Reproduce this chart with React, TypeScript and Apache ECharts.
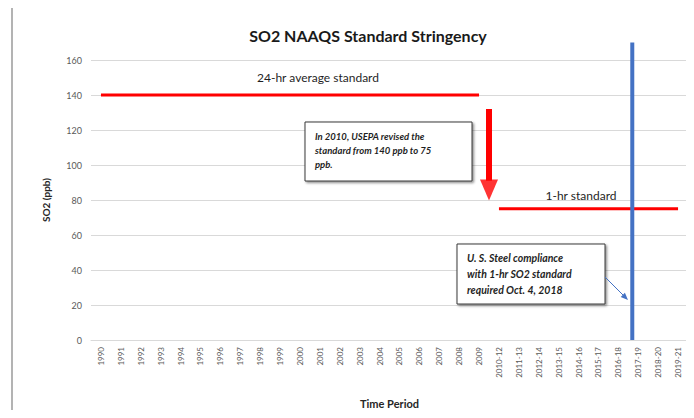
import React, { useEffect, useRef } from "react";
import * as echarts from "echarts";

const categories = [
  "1990", "1991", "1992", "1993", "1994", "1995", "1996", "1997", "1998", "1999",
  "2000", "2001", "2002", "2003", "2004", "2005", "2006", "2007", "2008", "2009",
  "2010-12", "2011-13", "2012-14", "2013-15", "2014-16", "2015-17", "2016-18", "2017-19", "2018-20", "2019-21",
];

const standard24hr = [
  140, 140, 140, 140, 140, 140, 140, 140, 140, 140,
  140, 140, 140, 140, 140, 140, 140, 140, 140, 140,
  null, null, null, null, null, null, null, null, null, null,
];

const standard1hr = [
  null, null, null, null, null, null, null, null, null, null,
  null, null, null, null, null, null, null, null, null, null,
  75, 75, 75, 75, 75, 75, 75, 75, 75, 75,
];

const yTicks = { min: 0, max: 160, interval: 20 };

// compliance date (Oct. 4, 2018) position on the category scale
const compliancePos = 26.7;
const complianceLine = [0, 170];

// revision arrow (2010): from shaft top to tip
const revisionPos = 19.5;
const arrowShaft = [132, 91];
const arrowHeadCenter = 85.7;

const FONT = "Lato, 'Open Sans', sans-serif";

export default function App() {
  const ref = useRef<HTMLDivElement>(null);

  useEffect(() => {
    if (!ref.current) return;
    const chart = echarts.init(ref.current, null, { renderer: "svg" });
    chart.setOption({
      animation: false,
      backgroundColor: "#ffffff",
      textStyle: { fontFamily: FONT },
      title: {
        text: "SO2 NAAQS Standard Stringency",
        left: 363,
        top: 22,
        textAlign: "center",
        textStyle: { fontFamily: FONT, fontSize: 16, fontWeight: "bold", color: "#1a1a1a" },
      },
      grid: { left: 91, right: 6, top: 60, bottom: 78, containLabel: false },
      xAxis: [
        {
          type: "category",
          data: categories,
          boundaryGap: true,
          axisLine: { show: true, lineStyle: { color: "#d9d9d9", width: 1 } },
          axisTick: { show: false },
          axisLabel: { rotate: 90, fontSize: 8, color: "#595959", margin: 7, interval: 0, fontFamily: FONT },
          name: "Time Period",
          nameLocation: "middle",
          nameGap: 58,
          nameTextStyle: { fontSize: 11, fontWeight: "bold", color: "#262626", fontFamily: FONT },
        },
        {
          type: "value",
          min: -0.5,
          max: 29.5,
          show: false,
          splitLine: { show: false },
        },
      ],
      yAxis: {
        type: "value",
        min: yTicks.min,
        max: yTicks.max,
        interval: yTicks.interval,
        axisLine: { show: false },
        axisTick: { show: false },
        axisLabel: { fontSize: 9, color: "#595959", margin: 9, fontFamily: FONT },
        splitLine: { lineStyle: { color: "#d9d9d9", width: 1 } },
        name: "SO2 (ppb)",
        nameLocation: "middle",
        nameGap: 40,
        nameTextStyle: { fontSize: 10, fontWeight: "bold", color: "#262626", fontFamily: FONT },
      },
      series: [
        {
          name: "24-hr",
          type: "line",
          xAxisIndex: 0,
          data: standard24hr,
          showSymbol: false,
          symbol: "none",
          lineStyle: { color: "#ff0000", width: 3 },
        },
        {
          name: "1-hr",
          type: "line",
          xAxisIndex: 0,
          data: standard1hr,
          showSymbol: false,
          symbol: "none",
          lineStyle: { color: "#ff0000", width: 3 },
        },
        {
          name: "compliance",
          type: "line",
          xAxisIndex: 1,
          clip: false,
          data: complianceLine.map((v) => [compliancePos, v]),
          symbol: "none",
          lineStyle: { color: "#4472c4", width: 4 },
          z: 5,
        },
        {
          name: "arrowShaft",
          type: "line",
          xAxisIndex: 1,
          clip: false,
          data: arrowShaft.map((v) => [revisionPos, v]),
          symbol: "none",
          lineStyle: { color: "#ff0000", width: 6, cap: "butt" },
        },
        {
          name: "arrowHead",
          type: "scatter",
          xAxisIndex: 1,
          clip: false,
          data: [[revisionPos, arrowHeadCenter]],
          symbol: "triangle",
          symbolSize: [18, 21],
          symbolRotate: 180,
          itemStyle: { color: "#ff0000" },
        },
      ],
      graphic: [
        {
          type: "rect",
          shape: { x: 12, y: 4, width: 720, height: 500 },
          style: { fill: "none", stroke: "#9a9a9a", lineWidth: 1.5 },
          silent: true,
        },
        {
          type: "text",
          x: 318,
          y: 77,
          style: {
            text: "24-hr average standard",
            fontFamily: FONT,
            fontSize: 12,
            fill: "#1f1f1f",
            align: "center",
            verticalAlign: "middle",
          },
        },
        {
          type: "text",
          x: 581,
          y: 195,
          style: {
            text: "1-hr standard",
            fontFamily: FONT,
            fontSize: 12,
            fill: "#1f1f1f",
            align: "center",
            verticalAlign: "middle",
          },
        },
        {
          type: "rect",
          shape: { x: 305, y: 122, width: 167, height: 59 },
          style: {
            fill: "#ffffff",
            stroke: "#3a3a3a",
            lineWidth: 1,
            shadowBlur: 2,
            shadowOffsetX: 1.5,
            shadowOffsetY: 1.5,
            shadowColor: "rgba(0,0,0,0.45)",
          },
          z: 10,
        },
        {
          type: "text",
          x: 315,
          y: 129,
          z: 11,
          style: {
            text: "In 2010, USEPA revised the\nstandard from 140 ppb to 75\nppb.",
            fontFamily: FONT,
            fontSize: 9.5,
            fontStyle: "italic",
            fontWeight: "bold",
            lineHeight: 14,
            fill: "#1f1f1f",
          },
        },
        {
          type: "rect",
          shape: { x: 457, y: 244, width: 148, height: 60 },
          style: {
            fill: "#ffffff",
            stroke: "#3a3a3a",
            lineWidth: 1,
            shadowBlur: 2,
            shadowOffsetX: 1.5,
            shadowOffsetY: 1.5,
            shadowColor: "rgba(0,0,0,0.45)",
          },
          z: 10,
        },
        {
          type: "text",
          x: 467,
          y: 250,
          z: 11,
          style: {
            text: "U. S. Steel compliance\nwith 1-hr SO2 standard\nrequired Oct. 4, 2018",
            fontFamily: FONT,
            fontSize: 10.5,
            fontStyle: "italic",
            fontWeight: "bold",
            lineHeight: 16,
            fill: "#1f1f1f",
          },
        },
        {
          type: "line",
          shape: { x1: 605, y1: 277, x2: 624, y2: 296 },
          style: { stroke: "#4472c4", lineWidth: 1 },
          z: 11,
        },
        {
          type: "polygon",
          shape: { points: [[628, 300], [620.7, 296.9], [624.9, 292.7]] },
          style: { fill: "#4472c4" },
          z: 11,
        },
      ],
    });
    return () => chart.dispose();
  }, []);

  return <div ref={ref} style={{ width: 694, height: 418, margin: -8 }} />;
}
